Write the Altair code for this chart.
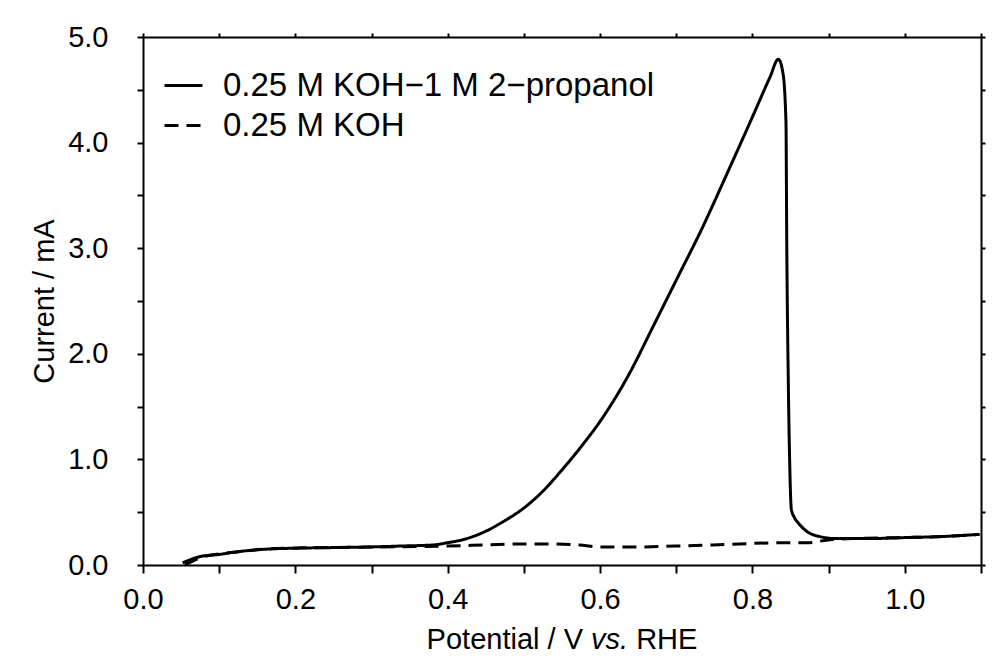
import altair as alt
import pandas as pd

S1 = "0.25 M KOH\u22121 M 2\u2212propanol"
S2 = "0.25 M KOH"

# Solid curve: 0.25 M KOH - 1 M 2-propanol
x1 = [0.052, 0.075, 0.100, 0.118, 0.162, 0.206, 0.250, 0.293, 0.340, 0.381,
      0.399, 0.425, 0.450, 0.475, 0.500, 0.525, 0.550, 0.575, 0.600, 0.639,
      0.669, 0.705, 0.730, 0.770, 0.801, 0.823, 0.834, 0.840, 0.844, 0.845,
      0.847, 0.849, 0.851, 0.855, 0.860, 0.871, 0.888, 0.910, 0.950, 1.002,
      1.050, 1.098]
y1 = [0.02, 0.08, 0.10, 0.12, 0.15, 0.16, 0.165, 0.17, 0.18, 0.19,
      0.21, 0.25, 0.32, 0.42, 0.54, 0.70, 0.90, 1.12, 1.36, 1.82,
      2.25, 2.77, 3.13, 3.76, 4.26, 4.62, 4.79, 4.66, 4.19, 3.08,
      1.76, 0.93, 0.53, 0.45, 0.40, 0.32, 0.27, 0.25, 0.25, 0.26,
      0.27, 0.29]

# Dashed curve: 0.25 M KOH
x2 = [0.055, 0.080, 0.120, 0.160, 0.200, 0.300, 0.400, 0.450, 0.500, 0.530,
      0.573, 0.600, 0.640, 0.700, 0.748, 0.783, 0.836, 0.871, 0.902, 0.930,
      1.000, 1.050, 1.098]
y2 = [0.00, 0.08, 0.12, 0.15, 0.16, 0.17, 0.18, 0.19, 0.20, 0.20,
      0.19, 0.17, 0.17, 0.18, 0.19, 0.20, 0.21, 0.21, 0.24, 0.25,
      0.26, 0.27, 0.29]

x_ticks = [0.0, 0.1, 0.2, 0.3, 0.4, 0.5, 0.6, 0.7, 0.8, 0.9, 1.0, 1.1]
y_ticks = [0.0, 0.5, 1.0, 1.5, 2.0, 2.5, 3.0, 3.5, 4.0, 4.5, 5.0]

# x-axis title pieces (middle piece is italic)
title_parts = ["Potential / V", "vs.", "RHE"]

rows = []
for i, (a, b) in enumerate(zip(x2, y2)):
    rows.append({"series": S2, "x": a, "y": b, "idx": i})
for i, (a, b) in enumerate(zip(x1, y1)):
    rows.append({"series": S1, "x": a, "y": b, "idx": i})
df = pd.DataFrame(rows)

FONT = "Liberation Sans"
FS = 29
xscale = alt.Scale(domain=[0, 1.1], nice=False, zero=False)
yscale = alt.Scale(domain=[0, 5], nice=False, zero=False)

lines = alt.Chart(df).mark_line(color="black", strokeWidth=3, interpolate="monotone").encode(
    x=alt.X("x:Q", scale=xscale,
            axis=alt.Axis(values=x_ticks, orient="bottom", labelFlush=False, labelOverlap=False,
                          labelExpr="round(datum.value*10) % 2 == 0 ? format(datum.value, '.1f') : ''",
                          title=None, tickSize=8, labelPadding=12, grid=False)),
    y=alt.Y("y:Q", scale=yscale,
            axis=alt.Axis(values=y_ticks, orient="left", labelFlush=False, labelOverlap=False,
                          labelExpr="round(datum.value*2) % 2 == 0 ? format(datum.value, '.1f') : ''",
                          title="Current / mA", tickSize=6, labelPadding=29,
                          titlePadding=8, grid=False)),
    strokeDash=alt.StrokeDash("series:N",
                              scale=alt.Scale(domain=[S1, S2], range=[[1, 0], [14, 8]]),
                              legend=alt.Legend(title=None, orient="none", legendX=20, legendY=28,
                                                symbolType="stroke", symbolSize=1444,
                                                symbolStrokeWidth=3, symbolStrokeColor="black",
                                                labelFontSize=33, labelFont=FONT, labelColor="black",
                                                labelOffset=19, rowPadding=2, labelLimit=700)),
    order=alt.Order("idx:Q"),
    detail="series:N",
)

frame = alt.Chart(df).mark_point(opacity=0).encode(
    x=alt.X("x:Q", scale=xscale,
            axis=alt.Axis(values=x_ticks, orient="top", labels=False, title=None,
                          tickSize=4, grid=False)),
    y=alt.Y("y:Q", scale=yscale,
            axis=alt.Axis(values=y_ticks, orient="right", labels=False, title=None,
                          tickSize=4, grid=False)),
)

# Title pieces laid out around the plot centre (419 px from plot's left edge)
W = 838
em = FS
w1 = 5.392 * em          # "Potential / V"
w2 = 1.278 * em          # "vs."
w3 = 2.111 * em          # "RHE"
sp = 0.278 * em
total = w1 + sp + w2 + sp + w3
start = W / 2 - total / 2
TY = 612

t1 = alt.Chart(pd.DataFrame({"t": [title_parts[0]]})).mark_text(
    font=FONT, fontSize=FS, align="left", baseline="alphabetic", color="black"
).encode(text="t:N", x=alt.value(start), y=alt.value(TY))
t2 = alt.Chart(pd.DataFrame({"t": [title_parts[1]]})).mark_text(
    font=FONT, fontSize=FS, fontStyle="italic", align="left", baseline="alphabetic", color="black"
).encode(text="t:N", x=alt.value(start + w1 + sp), y=alt.value(TY))
t3 = alt.Chart(pd.DataFrame({"t": [title_parts[2]]})).mark_text(
    font=FONT, fontSize=FS, align="left", baseline="alphabetic", color="black"
).encode(text="t:N", x=alt.value(start + w1 + sp + w2 + sp), y=alt.value(TY))

chart = alt.layer(lines, frame, t1, t2, t3).resolve_axis(x="independent", y="independent").properties(
    width=W, height=528,
    autosize=alt.AutoSizeParams(type="none"),
    padding={"left": 135, "top": 29, "right": 19, "bottom": 100},
    background="white",
).configure_view(stroke=None).configure_axis(
    labelFont=FONT, titleFont=FONT, labelFontSize=FS, titleFontSize=FS,
    titleFontWeight="normal", labelColor="black", titleColor="black",
    domainColor="black", domainWidth=2, tickColor="black", tickWidth=2,
)

chart.save("out.html", embed_options={"renderer": "svg", "actions": False})
